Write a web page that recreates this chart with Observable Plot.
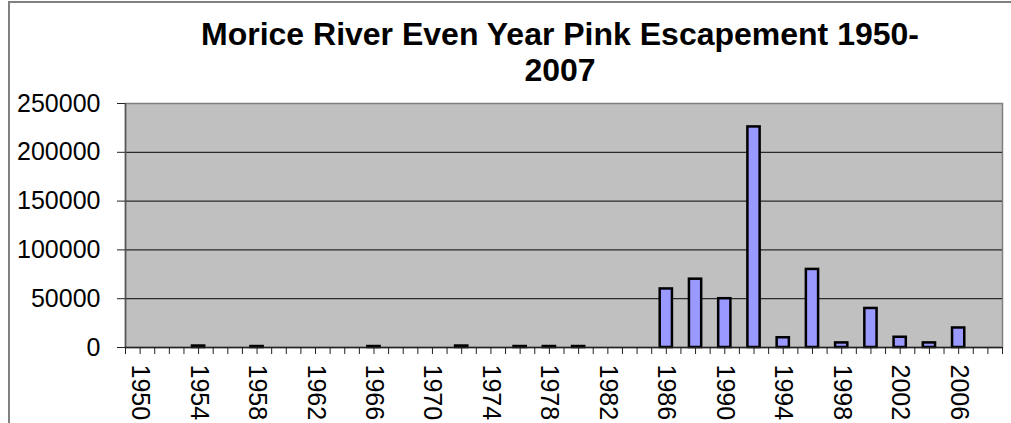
<!DOCTYPE html>
<html>
<head>
<meta charset="utf-8">
<script src="https://cdn.jsdelivr.net/npm/d3@7"></script>
<script src="https://cdn.jsdelivr.net/npm/@observablehq/plot@0.6"></script>
<style>
  html, body { margin: 0; padding: 0; background: #fff; }
  #wrap { position: relative; width: 1011px; height: 423px; overflow: hidden; font-family: "Liberation Sans", Arial, sans-serif; }
  #frame { position: absolute; left: 8px; top: 1px; width: 1100px; height: 500px; border-left: 2px solid #808080; border-top: 2px solid #808080; box-sizing: border-box; }
  #title { position: absolute; left: 110px; width: 900px; top: 16px; text-align: center; font-weight: bold; font-size: 32px; line-height: 36px; color: #000; }
  #chart { position: absolute; left: 0; top: 0; }
</style>
</head>
<body>
<div id="wrap">
  <div id="frame"></div>
  <div id="chart"></div>
  <div id="title">Morice River Even Year Pink Escapement 1950-<br>2007</div>
</div>
<script>
// Even years (categories)
const years = [1950,1952,1954,1956,1958,1960,1962,1964,1966,1968,1970,1972,1974,1976,1978,1980,1982,1984,1986,1988,1990,1992,1994,1996,1998,2000,2002,2004,2006,2008];
// Escapement values
const escapement = [0,0,1500,0,1000,0,0,0,1000,0,0,1500,0,1000,1000,1000,0,0,60000,70000,50000,226000,10000,80000,4700,40000,10500,4700,20000,null];
// Axis ticks
const yTicks = [0,50000,100000,150000,200000,250000];
const gridValues = [50000,100000,150000,200000];
const xTickYears = d3.range(1949, 2010);
const xLabelYears = [1950,1954,1958,1962,1966,1970,1974,1978,1982,1986,1990,1994,1998,2002,2006];

const data = years.map((y, i) => ({year: y, value: escapement[i]})).filter(d => d.value);

const chart = Plot.plot({
  width: 1011,
  height: 423,
  marginLeft: 125,
  marginRight: 9,
  marginTop: 103,
  marginBottom: 76,
  style: {fontFamily: "'Liberation Sans', Arial, sans-serif", fontSize: "25px", color: "#000", background: "transparent", overflow: "visible"},
  x: {type: "linear", domain: [1949, 2009]},
  y: {domain: [0, 250000]},
  marks: [
    Plot.frame({fill: "#C0C0C0", stroke: "#808080", strokeWidth: 1.5}),
    Plot.ruleY(gridValues, {stroke: "#2a2a2a", strokeWidth: 1.3}),
    Plot.ruleX([xTickYears[0]], {stroke: "#555", strokeWidth: 1.5}),
    Plot.rectY(data, {
      x1: d => d.year - 1,
      x2: d => d.year + 1,
      y1: 0,
      y2: "value",
      insetLeft: 8.5,
      insetRight: 8.5,
      fill: "#9999FF",
      stroke: "#000",
      strokeWidth: 2.5
    }),
    Plot.ruleY([0], {stroke: "#222", strokeWidth: 1.5}),
    Plot.axisY({
      ticks: yTicks,
      tickSize: 8,
      tickPadding: 17,
      tickFormat: d => String(d),
      label: null,
      stroke: "#222",
      fontSize: 25
    }),
    Plot.axisX({
      ticks: xTickYears,
      tickSize: 7,
      tickPadding: 10,
      tickRotate: 90,
      tickFormat: d => xLabelYears.includes(d) ? String(d) : "",
      label: null,
      stroke: "#222",
      fontSize: 25
    })
  ]
});
document.getElementById("chart").appendChild(chart);
</script>
</body>
</html>
